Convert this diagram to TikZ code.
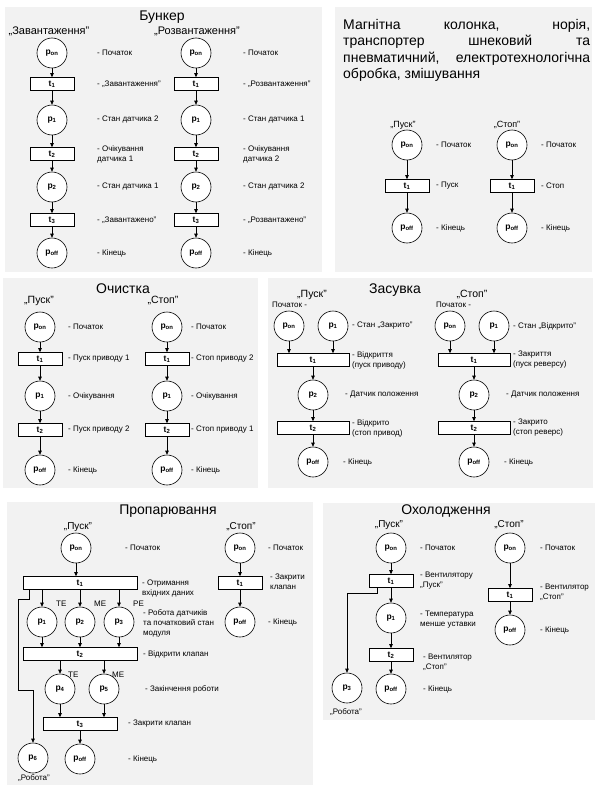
\documentclass[tikz,border=0pt]{standalone}
\usepackage{fontspec}
\setmainfont{Liberation Sans}
\usepackage{xcolor}
\usepackage{tikz}
\usetikzlibrary{positioning, arrows.meta, calc}

\definecolor{panelgray}{RGB}{242,242,242}

\newcommand{\PlaceLbl}[1]{p\textsubscript{#1}}
\newcommand{\TrLbl}[1]{t\textsubscript{#1}}

\begin{document}
\begin{tikzpicture}[x=1pt, y=-1pt,
    place/.style={circle, draw, fill=white, line width=0.6pt, minimum size=30pt, inner sep=0pt, font=\fontsize{8.5}{9}\selectfont\bfseries},
    trans/.style={rectangle, draw, fill=white, line width=0.6pt, minimum width=44pt, minimum height=13pt, inner sep=0pt, font=\fontsize{8.5}{9}\selectfont\bfseries},
    arc/.style={-{Triangle[length=4pt, width=3.5pt]}, line width=0.6pt},
    lbl/.style={anchor=west, align=left, inner sep=0pt, font=\fontsize{8}{10}\selectfont},
    hdr/.style={inner sep=0pt, font=\fontsize{11}{13}\selectfont},
    ttl/.style={inner sep=0pt, font=\fontsize{14}{16}\selectfont}]

  \useasboundingbox (0,0) rectangle (595,787);

  % panels
  \fill[panelgray] (5,7) rectangle (322,272);
  \fill[panelgray] (335,7) rectangle (592,272);
  \fill[panelgray] (3,278) rectangle (258,488);
  \fill[panelgray] (268,278) rectangle (593,488);
  \fill[panelgray] (7,502) rectangle (313,785);
  \fill[panelgray] (323,503) rectangle (595,720);

  % Bunker
  \node[ttl] (bk-title) at (162,17) {Бункер};
  \foreach \c/\x/\lx/\hx/\hd/\la/\lb/\lc/\ld/\le in {
      a/52/97/49/{„Завантаження”}/{- „Завантаження”}/{- Стан датчика 2}/{- Очікування\\датчика 1}/{- Стан датчика 1}/{- „Завантажено”},
      b/196/243/197/{„Розвантаження”}/{- „Розвантаження”}/{- Стан датчика 1}/{- Очікування\\датчика 2}/{- Стан датчика 2}/{- „Розвантажено”}} {
    \node[hdr] (bk\c-hd) at (\hx,31) {\hd};
    \node[place] (bk\c-on) at (\x,53) {\PlaceLbl{on}};
    \node[trans] (bk\c-t1) at (\x,84) {\TrLbl{1}};
    \node[place] (bk\c-p1) at (\x,120) {\PlaceLbl{1}};
    \node[trans] (bk\c-t2) at (\x,154) {\TrLbl{2}};
    \node[place] (bk\c-p2) at (\x,187) {\PlaceLbl{2}};
    \node[trans] (bk\c-t3) at (\x,220) {\TrLbl{3}};
    \node[place] (bk\c-off) at (\x,253) {\PlaceLbl{off}};
    \draw[arc] (bk\c-on) -- (bk\c-t1);
    \draw[arc] (bk\c-t1) -- (bk\c-p1);
    \draw[arc] (bk\c-p1) -- (bk\c-t2);
    \draw[arc] (bk\c-t2) -- (bk\c-p2);
    \draw[arc] (bk\c-p2) -- (bk\c-t3);
    \draw[arc] (bk\c-t3) -- (bk\c-off);
    \node[lbl] (bk\c-l0) at (\lx,53) {- Початок};
    \node[lbl] (bk\c-l1) at (\lx,84) {\la};
    \node[lbl] (bk\c-l2) at (\lx,120) {\lb};
    \node[lbl] (bk\c-l3) at (\lx,154) {\lc};
    \node[lbl] (bk\c-l4) at (\lx,187) {\ld};
    \node[lbl] (bk\c-l5) at (\lx,220) {\le};
    \node[lbl] (bk\c-l6) at (\lx,253) {- Кінець};
  }

  % magnetic column, noria, conveyors ...
  \node[anchor=north west, align=left, inner sep=0pt, font=\fontsize{14}{16.5}\selectfont] (mg-text) at (343,19) {%
    \makebox[247pt][s]{Магнітна колонка, норія,}\\
    \makebox[247pt][s]{транспортер шнековий та}\\
    \makebox[247pt][s]{пневматичний, електротехнологічна}\\
    обробка, змішування};
  \foreach \c/\x/\hx/\hd/\lt in {a/407/403/{„Пуск”}/{- Пуск}, b/512/507/{„Стоп”}/{- Стоп}} {
    \node[hdr, font=\fontsize{9}{11}\selectfont] (mg\c-hd) at (\hx,125) {\hd};
    \node[place] (mg\c-on) at (\x,145) {\PlaceLbl{on}};
    \node[trans] (mg\c-t1) at (\x,186) {\TrLbl{1}};
    \node[place] (mg\c-off) at (\x,228) {\PlaceLbl{off}};
    \draw[arc] (mg\c-on) -- (mg\c-t1);
    \draw[arc] (mg\c-t1) -- (mg\c-off);
    \node[lbl] (mg\c-l0) at (\x+29,145) {- Початок};
    \node[lbl] (mg\c-l1) at (\x+29,186) {\lt};
    \node[lbl] (mg\c-l2) at (\x+29,228) {- Кінець};
  }

  % Cleaning
  \node[ttl] (oc-title) at (123,289) {Очистка};
  \foreach \c/\x/\lx/\hx/\hd/\la/\lb in {
      a/40/68/39/{„Пуск”}/{- Пуск приводу 1}/{- Пуск приводу 2},
      b/167/191/163/{„Стоп”}/{- Стоп приводу 2}/{- Стоп приводу 1}} {
    \node[hdr, font=\fontsize{10.5}{12}\selectfont] (oc\c-hd) at (\hx,301) {\hd};
    \node[place] (oc\c-on) at (\x,327) {\PlaceLbl{on}};
    \node[trans] (oc\c-t1) at (\x,359) {\TrLbl{1}};
    \node[place] (oc\c-p1) at (\x,396) {\PlaceLbl{1}};
    \node[trans] (oc\c-t2) at (\x,430) {\TrLbl{2}};
    \node[place] (oc\c-off) at (\x,470) {\PlaceLbl{off}};
    \draw[arc] (oc\c-on) -- (oc\c-t1);
    \draw[arc] (oc\c-t1) -- (oc\c-p1);
    \draw[arc] (oc\c-p1) -- (oc\c-t2);
    \draw[arc] (oc\c-t2) -- (oc\c-off);
    \node[lbl] (oc\c-l0) at (\lx,327) {- Початок};
    \node[lbl] (oc\c-l1) at (\lx,359) {\la};
    \node[lbl] (oc\c-l2) at (\lx,396) {- Очікування};
    \node[lbl] (oc\c-l3) at (\lx,430) {\lb};
    \node[lbl] (oc\c-l4) at (\lx,470) {- Кінець};
  }

  % Gate valve
  \node[ttl] (zs-title) at (395,290) {Засувка};
  \foreach \c/\x/\hx/\ps/\pl/\la/\lb/\lc in {
      a/313/312/272/{„Пуск”}/{- Стан „Закрито”}/{- Відкриття\\(пуск приводу)}/{- Відкрито\\(стоп привод)},
      b/474/472/436/{„Стоп”}/{- Стан „Відкрито”}/{- Закриття\\(пуск реверсу)}/{- Закрито\\(стоп реверс)}} {
    \node[hdr, font=\fontsize{10.5}{12}\selectfont] (zs\c-hd) at (\hx,295) {\pl};
    \node[lbl] (zs\c-start) at (\ps,305) {Початок -};
    \node[place] (zs\c-on) at (\x-24,326) {\PlaceLbl{on}};
    \node[place] (zs\c-p1) at (\x+20,326) {\PlaceLbl{1}};
    \node[trans, minimum width=72pt] (zs\c-t1) at (\x,360) {\TrLbl{1}};
    \node[place] (zs\c-p2) at (\x,395) {\PlaceLbl{2}};
    \node[trans, minimum width=72pt] (zs\c-t2) at (\x,428) {\TrLbl{2}};
    \node[place] (zs\c-off) at (\x,462) {\PlaceLbl{off}};
    \draw[arc] (zs\c-on) -- (zs\c-on |- zs\c-t1.north);
    \draw[arc] (zs\c-p1) -- (zs\c-p1 |- zs\c-t1.north);
    \draw[arc] (zs\c-t1) -- (zs\c-p2);
    \draw[arc] (zs\c-p2) -- (zs\c-t2);
    \draw[arc] (zs\c-t2) -- (zs\c-off);
    \node[lbl] (zs\c-l0) at (\x+39,326) {\la};
    \node[lbl] (zs\c-l1) at (\x+39,360) {\lb};
    \node[lbl] (zs\c-l2) at (\x+32,395) {- Датчик положення};
    \node[lbl] (zs\c-l3) at (\x+39,428) {\lc};
    \node[lbl] (zs\c-l4) at (\x+30,462) {- Кінець};
  }

  % Steaming
  \node[ttl] (pr-title) at (168,511) {Пропарювання};
  \node[hdr, font=\fontsize{10}{12}\selectfont] (pr-hd) at (78,527) {„Пуск”};
  \node[place] (pr-on) at (76,548) {\PlaceLbl{on}};
  \node[trans, minimum width=114pt] (pr-t1) at (80,583) {\TrLbl{1}};
  \foreach \i/\x/\s in {1/42/TE, 2/80/ME, 3/119/PE} {
    \node[place] (pr-p\i) at (\x,622) {\PlaceLbl{\i}};
    \node[lbl, font=\fontsize{8}{9}\selectfont] (pr-s\i) at (\x+14,604) {\s};
  }
  \node[trans, minimum width=114pt] (pr-t2) at (80,654) {\TrLbl{2}};
  \foreach \i/\x/\s in {4/60/TE, 5/104/ME} {
    \node[place] (pr-p\i) at (\x,689) {\PlaceLbl{\i}};
    \node[lbl, font=\fontsize{8}{9}\selectfont] (pr-s\i) at (\x+8,675) {\s};
  }
  \node[trans, minimum width=74pt] (pr-t3) at (80,724) {\TrLbl{3}};
  \node[place] (pr-off) at (80,759) {\PlaceLbl{off}};
  \node[place] (pr-p6) at (33,758) {\PlaceLbl{6}};
  \node[lbl, anchor=center] (pr-rob) at (34,778) {„Робота”};
  \draw[arc] (pr-on) -- (pr-on |- pr-t1.north);
  \foreach \i in {1,2,3} {
    \draw[arc] (pr-p\i |- pr-t1.south) -- (pr-p\i);
    \draw[arc] (pr-p\i) -- (pr-p\i |- pr-t2.north);
  }
  \foreach \i in {4,5} {
    \draw[arc] (pr-p\i |- pr-t2.south) -- (pr-p\i);
    \draw[arc] (pr-p\i) -- (pr-p\i |- pr-t3.north);
  }
  \draw[arc] (pr-t3) -- (pr-off);
  \draw[arc] ([xshift=-51pt]pr-t1.south) -- ++(0,9) -| (18,690) -| (pr-p6);
  \node[lbl] (pr-l0) at (125,548) {- Початок};
  \node[lbl] (pr-l1) at (142,588) {- Отримання\\вхідних даних};
  \node[lbl] (pr-l2) at (143,623) {- Робота датчиків\\та початковий стан\\модуля};
  \node[lbl] (pr-l3) at (143,654) {- Відкрити клапан};
  \node[lbl] (pr-l4) at (145,689) {- Закінчення роботи};
  \node[lbl] (pr-l5) at (128,724) {- Закрити клапан};
  \node[lbl] (pr-l6) at (128,759) {- Кінець};
  % stop
  \node[hdr, font=\fontsize{10}{12}\selectfont] (prs-hd) at (241,527) {„Стоп”};
  \node[place] (prs-on) at (240,548) {\PlaceLbl{on}};
  \node[trans] (prs-t1) at (240,583) {\TrLbl{1}};
  \node[place] (prs-off) at (240,622) {\PlaceLbl{off}};
  \draw[arc] (prs-on) -- (prs-t1);
  \draw[arc] (prs-t1) -- (prs-off);
  \node[lbl] (prs-l0) at (268,548) {- Початок};
  \node[lbl] (prs-l1) at (270,582) {- Закрити\\клапан};
  \node[lbl] (prs-l2) at (268,622) {- Кінець};

  % Cooling
  \node[ttl] (ox-title) at (446,511) {Охолодження};
  \node[hdr, font=\fontsize{10}{12}\selectfont] (ox-hd) at (389,525) {„Пуск”};
  \node[place] (ox-on) at (391,548) {\PlaceLbl{on}};
  \node[trans] (ox-t1) at (391,581) {\TrLbl{1}};
  \node[place] (ox-p1) at (391,618) {\PlaceLbl{1}};
  \node[trans] (ox-t2) at (391,655) {\TrLbl{2}};
  \node[place] (ox-off) at (391,689) {\PlaceLbl{off}};
  \node[place] (ox-p3) at (347,688) {\PlaceLbl{3}};
  \node[lbl, anchor=center] (ox-rob) at (346,712) {„Робота”};
  \draw[arc] (ox-on) -- (ox-t1);
  \draw[arc] (ox-t1) -- (ox-p1);
  \draw[arc] (ox-p1) -- (ox-t2);
  \draw[arc] (ox-t2) -- (ox-off);
  \draw[arc] ([xshift=-14pt]ox-t1.south) -- ++(0,5) -| (ox-p3);
  \node[lbl] (ox-l0) at (420,548) {- Початок};
  \node[lbl] (ox-l1) at (420,581) {- Вентилятору\\„Пуск”};
  \node[lbl] (ox-l2) at (420,620) {- Температура\\менше уставки};
  \node[lbl] (ox-l3) at (423,662) {- Вентилятор\\„Стоп”};
  \node[lbl] (ox-l4) at (423,689) {- Кінець};
  % stop
  \node[hdr, font=\fontsize{10}{12}\selectfont] (oxs-hd) at (509,525) {„Стоп”};
  \node[place] (oxs-on) at (510,548) {\PlaceLbl{on}};
  \node[trans] (oxs-t1) at (510,595) {\TrLbl{1}};
  \node[place] (oxs-off) at (510,630) {\PlaceLbl{off}};
  \draw[arc] (oxs-on) -- (oxs-t1);
  \draw[arc] (oxs-t1) -- (oxs-off);
  \node[lbl] (oxs-l0) at (540,548) {- Початок};
  \node[lbl] (oxs-l1) at (540,592) {- Вентилятор\\„Стоп”};
  \node[lbl] (oxs-l2) at (540,630) {- Кінець};
\end{tikzpicture}
\end{document}
